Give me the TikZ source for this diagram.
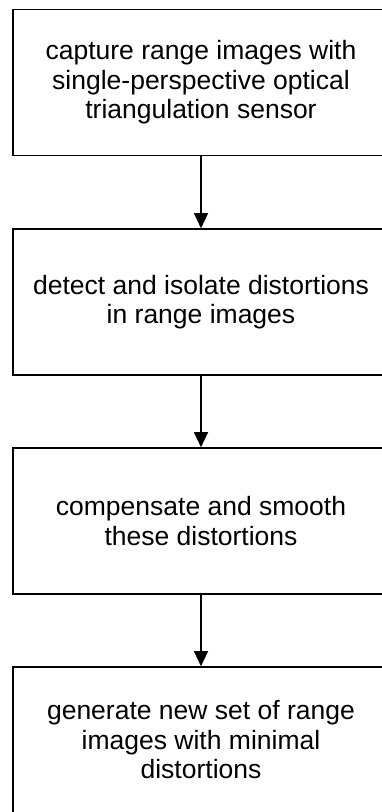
\documentclass[tikz,border=0pt]{standalone}
\usepackage{fontspec}
\setmainfont{Liberation Sans}
\usetikzlibrary{arrows.meta}
\tikzset{
  stepbox/.style={draw=black, line width=1.6pt, minimum width=376pt, minimum height=146pt,
    align=center, inner sep=0pt, font=\fontsize{26.5pt}{29.5pt}\selectfont},
  flow/.style={draw=black, line width=1.3pt, -{Triangle[width=14pt,length=15pt]}}
}
\begin{document}
\begin{tikzpicture}[x=1pt,y=1pt]
  \useasboundingbox (0,0) rectangle (382,-812);
  \node[stepbox] (b1) at (201,-82.5) {capture range images with\\single-perspective optical\\triangulation sensor};
  \node[stepbox] (b2) at (201,-302) {detect and isolate distortions\\in range images};
  \node[stepbox] (b3) at (201,-521) {compensate and smooth\\these distortions};
  \node[stepbox] (b4) at (201,-740) {generate new set of range\\images with minimal\\distortions};
  \draw[flow] (b1.south) -- (b2.north);
  \draw[flow] (b2.south) -- (b3.north);
  \draw[flow] (b3.south) -- (b4.north);
\end{tikzpicture}
\end{document}
